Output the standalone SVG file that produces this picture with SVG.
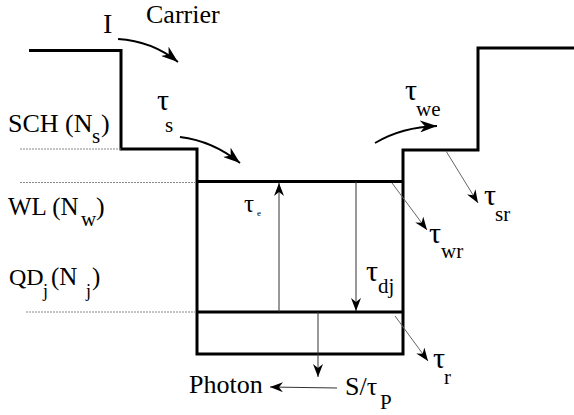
<svg xmlns="http://www.w3.org/2000/svg" width="574" height="415" viewBox="0 0 574 415" font-family="'Liberation Serif', 'Times New Roman', 'DejaVu Serif', serif">
<style>
text{font-family:'Liberation Serif','Times New Roman','DejaVu Serif',serif;fill:#000}
.lbl{font-size:26px}
.tau{font-size:30px}
.sub{font-size:21px}
.well{fill:none;stroke:#000;stroke-width:3}
.dot{fill:none;stroke:#888;stroke-width:1;stroke-dasharray:2 1}
.thin{fill:none;stroke:#333;stroke-width:1}
.thin2{fill:none;stroke:#666;stroke-width:1}
.curve{fill:none;stroke:#000;stroke-width:1.8}
</style>
<defs>
<marker id="ah" markerUnits="userSpaceOnUse" markerWidth="14" markerHeight="10" refX="13" refY="5" orient="auto">
<path d="M0,0 L13,5 L0,10 L4,5 z" fill="#000"/>
</marker>
<marker id="ahL" markerUnits="userSpaceOnUse" markerWidth="18" markerHeight="12" refX="17" refY="6" orient="auto">
<path d="M0,0 L17,6 L0,12 L5,6 z" fill="#000"/>
</marker>
</defs>
<g id="band-structure">
<path class="well" d="M29,50.5 H121 V149 H197 V354 H403 V150 H478 V48 H574"/>
<path class="well" d="M197,181.5 H403"/>
<path class="well" d="M197,312 H403"/>
<path class="dot" d="M20,149 H121"/>
<path class="dot" d="M20,182.5 H196"/>
<path class="dot" d="M26,312 H196"/>
</g>
<g id="carrier">
<text class="lbl" x="146" y="23">Carrier</text>
<text x="103" y="33" style="font-size:28px">I</text>
</g>
<g id="sch">
<text class="lbl" x="8" y="132">SCH (N</text>
<text class="sub" x="92" y="143">s</text>
<text class="lbl" x="101" y="132">)</text>
</g>
<g id="wl">
<text class="lbl" x="8" y="215" style="font-size:25px">WL (N</text>
<text class="sub" x="81" y="226">w</text>
<text class="lbl" x="96" y="215">)</text>
</g>
<g id="qd">
<text class="lbl" x="9" y="285" style="font-size:24px">QD</text>
<text class="sub" x="43" y="297" style="font-size:18px">j</text>
<text class="lbl" x="51" y="285" style="font-size:25px">(N</text>
<text class="sub" x="86" y="297" style="font-size:18px">j</text>
<text class="lbl" x="92" y="285" style="font-size:25px">)</text>
</g>
<g id="tau-s"><text class="tau" x="157" y="110">τ</text><text class="sub" x="165" y="132">s</text></g>
<g id="tau-we"><text class="tau" x="405" y="100">τ</text><text class="sub" x="416" y="116">we</text></g>
<g id="tau-sr"><text class="tau" x="484" y="205">τ</text><text class="sub" x="495" y="221">sr</text></g>
<g id="tau-wr"><text class="tau" x="429" y="243">τ</text><text class="sub" x="441" y="258">wr</text></g>
<g id="tau-e"><text x="244" y="212" style="font-size:25px">τ</text><text x="257" y="216" style="font-size:9px">e</text></g>
<g id="tau-dj"><text class="tau" x="366" y="281">τ</text><text class="sub" x="378" y="293">dj</text></g>
<g id="tau-r"><text class="tau" x="433" y="368">τ</text><text class="sub" x="444" y="384">r</text></g>
<g id="photon"><text class="lbl" x="189" y="393">Photon</text></g>
<g id="s-tau-p"><text class="lbl" x="345" y="395">S/τ</text><text class="sub" x="380" y="409">P</text></g>
<g id="connectors">
<path class="curve" d="M118,39 Q152,41 178,62" marker-end="url(#ahL)"/>
<path class="curve" d="M180,137 Q213,141 240,163" marker-end="url(#ahL)"/>
<path class="curve" d="M375,143 Q402,127 437,126" marker-end="url(#ahL)"/>
<path class="thin" d="M279,312 V183" marker-end="url(#ah)"/>
<path class="thin" d="M356,181.5 V311" marker-end="url(#ah)"/>
<path class="thin" d="M318,312 V377" marker-end="url(#ah)"/>
<path class="thin" d="M337,388 L270,387" marker-end="url(#ah)"/>
<path class="thin2" d="M392,183 L427,230" marker-end="url(#ah)"/>
<path class="thin2" d="M446,151 L478,203" marker-end="url(#ah)"/>
<path class="thin2" d="M395,316 L428,361" marker-end="url(#ah)"/>
</g>
</svg>
